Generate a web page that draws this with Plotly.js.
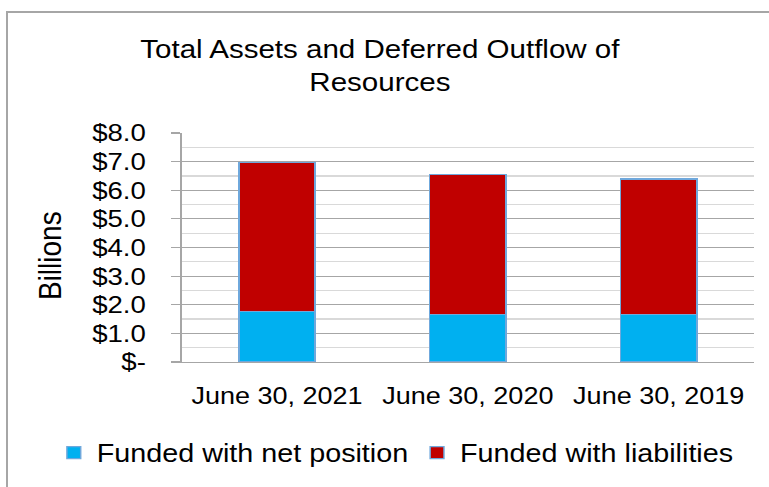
<!DOCTYPE html>
<html>
<head>
<meta charset="utf-8">
<script src="https://cdn.plot.ly/plotly-3.0.1.min.js"></script>
<style>
html,body{margin:0;padding:0;background:#fff;}
#wrap{position:relative;width:769px;height:487px;overflow:hidden;}
#frame{position:absolute;left:6px;top:11px;width:900px;height:600px;border-left:2px solid #a6a6a6;border-top:2px solid #a6a6a6;pointer-events:none;z-index:5;}
#chart{position:absolute;left:0;top:0;width:669px;height:487px;transform:scaleX(1.1495);transform-origin:0 0;}
</style>
</head>
<body>
<div id="wrap"><div id="chart"></div><div id="frame"></div></div>
<script>
const categories = ["June 30, 2021", "June 30, 2020", "June 30, 2019"];
const netPosition = [1.76, 1.67, 1.66];
const liabilities = [5.22, 4.89, 4.73];
const seriesNames = ["Funded with net position", "Funded with liabilities"];
const yTickVals = [0, 1, 2, 3, 4, 5, 6, 7, 8];
const yTickText = ["$-", "$1.0", "$2.0", "$3.0", "$4.0", "$5.0", "$6.0", "$7.0", "$8.0"];
const yMinorVals = [0.5, 1.5, 2.5, 3.5, 4.5, 5.5, 6.5, 7.5];
const yTitle = "Billions";

const font = "Arial, 'Liberation Sans', sans-serif";
const outline = {color: "#6FA8DC", width: 1.3};

const data = [
  {type: "bar", name: seriesNames[0], x: categories, y: netPosition,
   marker: {color: "#00B0F0", line: outline}},
  {type: "bar", name: seriesNames[1], x: categories, y: liabilities,
   marker: {color: "#C00000", line: outline}}
];

const layout = {
  width: 669, height: 487,
  margin: {l: 158, r: 13, t: 133, b: 125, pad: 0, autoexpand: false},
  paper_bgcolor: "#ffffff", plot_bgcolor: "#ffffff",
  barmode: "stack", bargap: 0.6,
  font: {family: font, color: "#000000"},
  title: {text: "Total Assets and Deferred Outflow of<br>Resources",
          font: {family: font, size: 25.7, color: "#000"},
          xref: "container", x: 0.494, xanchor: "center",
          yref: "container", y: 0.881, yanchor: "middle"},
  xaxis: {type: "category", showgrid: false, zeroline: false,
          showline: true, linecolor: "#a6a6a6", linewidth: 1.3,
          ticks: "", tickfont: {family: font, size: 23.5, color: "#000"},
          ticklabelstandoff: 13, fixedrange: true},
  yaxis: {range: [0, 8], tickmode: "array", tickvals: yTickVals, ticktext: yTickText,
          showgrid: true, gridcolor: "#a6a6a6", gridwidth: 1.2,
          minor: {tickvals: yMinorVals, showgrid: true, gridcolor: "#d9d9d9", gridwidth: 1.2, ticks: ""},
          zeroline: false, showline: true, linecolor: "#a6a6a6", linewidth: 1.3,
          ticks: "outside", ticklen: 8, tickcolor: "#a6a6a6", tickwidth: 1.2,
          tickfont: {family: font, size: 24, color: "#000"},
          ticklabelstandoff: 17,
          fixedrange: true},
  annotations: [{text: yTitle, textangle: -90, showarrow: false,
                 xref: "paper", x: -0.2288, xanchor: "center",
                 yref: "paper", y: 0.463, yanchor: "middle",
                 font: {family: font, size: 28, color: "#000"}}],
  legend: {orientation: "h", xref: "paper", x: -0.2285, xanchor: "left",
           yref: "paper", y: -0.397, yanchor: "middle",
           font: {family: font, size: 25, color: "#000"},
           itemwidth: 30, tracegroupgap: 0, traceorder: "normal"},
  showlegend: true
};

Plotly.newPlot("chart", data, layout, {displayModeBar: false, staticPlot: true});
</script>
</body>
</html>
